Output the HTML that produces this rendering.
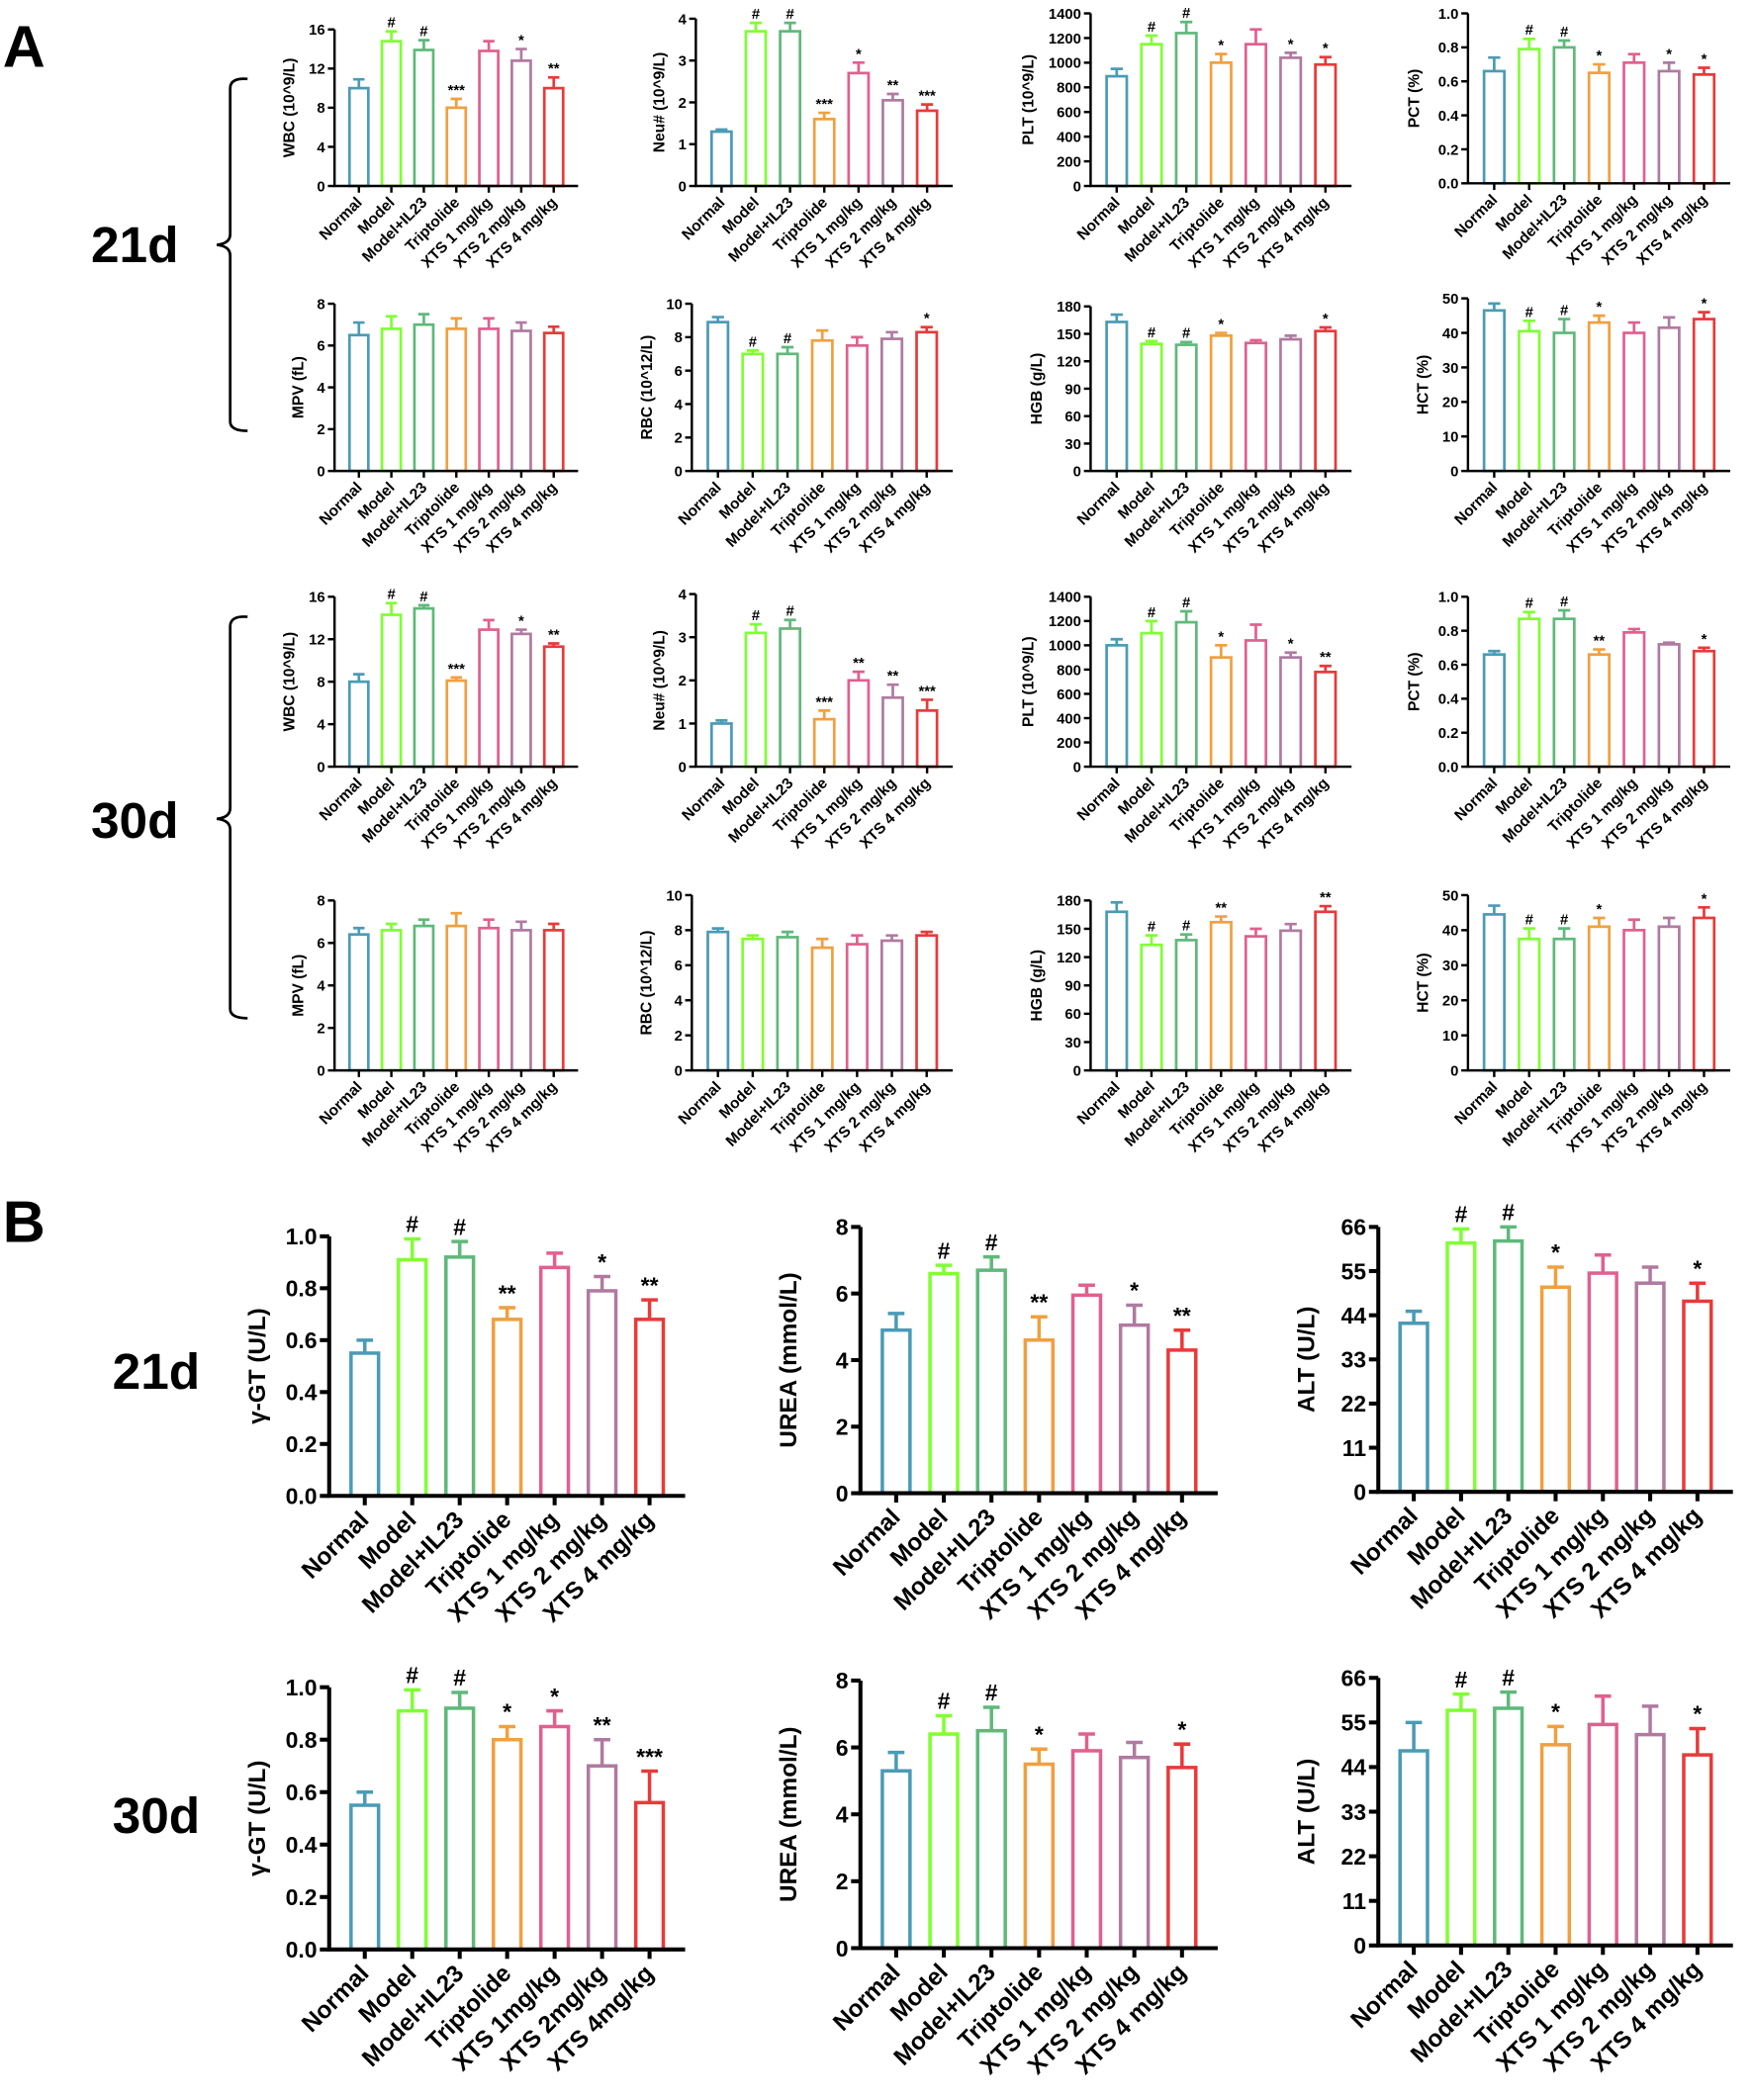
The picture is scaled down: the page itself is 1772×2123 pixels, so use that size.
<!DOCTYPE html>
<html><head><meta charset="utf-8"><style>
html,body{margin:0;padding:0;background:#fff;}
svg{display:block;font-family:"Liberation Sans",Arial,sans-serif;font-weight:bold;}
</style></head><body>
<svg id="fig" width="1772" height="2123" viewBox="0 0 1310 1569.5" xmlns="http://www.w3.org/2000/svg">
<text x="2" y="50" font-size="44">A</text>
<text x="2" y="928" font-size="44">B</text>
<text x="68" y="196" font-size="38">21d</text>
<text x="68" y="626" font-size="38">30d</text>
<text x="84" y="1038" font-size="38">21d</text>
<text x="84" y="1370" font-size="38">30d</text>
<path d="M185 59 Q172 58 172 66 L172 175 Q172 182 162 183 Q172 184 172 191 L172 315 Q172 322 185 322" fill="none" stroke="#000" stroke-width="2"/>
<path d="M185 461 Q172 460 172 468 L172 604 Q172 611 162 612 Q172 613 172 620 L172 754 Q172 761 185 761" fill="none" stroke="#000" stroke-width="2"/>
</svg>
<script>
const colors=["#4a9bb6","#80ff33","#5fb97a","#f0a040","#e0608f","#b07aa0","#e83a3a"];
const cats=["Normal","Model","Model+IL23","Triptolide","XTS 1 mg/kg","XTS 2 mg/kg","XTS 4 mg/kg"];
const cats2=["Normal","Model","Model+IL23","Triptolide","XTS 1mg/kg","XTS 2mg/kg","XTS 4mg/kg"];
// 21d panel A
const wbc21=[10,14.8,13.9,8,13.8,12.8,10], wbc21e=[0.9,1.0,1.0,0.9,1.0,1.2,1.1], wbc21m=["","#","#","***","","*","**"];
const neu21=[1.3,3.7,3.7,1.6,2.7,2.05,1.8], neu21e=[0.05,0.2,0.2,0.15,0.25,0.15,0.15], neu21m=["","#","#","***","*","**","***"];
const plt21=[890,1150,1240,1000,1150,1040,985], plt21e=[60,70,90,70,120,40,60], plt21m=["","#","#","*","","*","*"];
const pct21=[0.66,0.79,0.80,0.65,0.71,0.66,0.64], pct21e=[0.08,0.06,0.04,0.05,0.05,0.05,0.04], pct21m=["","#","#","*","","*","*"];
const mpv21=[6.5,6.8,7.0,6.8,6.8,6.7,6.6], mpv21e=[0.6,0.6,0.5,0.5,0.5,0.4,0.3], noM=["","","","","","",""];
const rbc21=[8.9,7.0,7.0,7.8,7.5,7.9,8.3], rbc21e=[0.3,0.2,0.4,0.6,0.5,0.4,0.3], rbc21m=["","#","#","","","","*"];
const hgb21=[163,139,138,148,140,144,153], hgb21e=[8,3,3,3,3,4,4], hgb21m=["","#","#","*","","","*"];
const hct21=[46.5,40.5,40,43,40,41.5,44], hct21e=[2,3,4,2,3,3,2], hct21m=["","#","#","*","","","*"];
// 30d panel A
const wbc30=[8,14.3,14.9,8.1,12.9,12.5,11.3], wbc30e=[0.7,1.1,0.3,0.3,0.9,0.4,0.3], wbc30m=["","#","#","***","","*","**"];
const neu30=[1.0,3.1,3.2,1.1,2.0,1.6,1.3], neu30e=[0.07,0.2,0.2,0.2,0.2,0.3,0.25], neu30m=["","#","#","***","**","**","***"];
const plt30=[1000,1100,1190,900,1040,900,780], plt30e=[50,100,90,100,130,40,50], plt30m=["","#","#","*","","*","**"];
const pct30=[0.66,0.87,0.87,0.66,0.79,0.72,0.68], pct30e=[0.02,0.04,0.05,0.03,0.02,0.01,0.02], pct30m=["","#","#","**","","","*"];
const mpv30=[6.4,6.6,6.8,6.8,6.7,6.6,6.6], mpv30e=[0.3,0.3,0.3,0.6,0.4,0.4,0.3];
const rbc30=[7.9,7.5,7.6,7.0,7.2,7.4,7.7], rbc30e=[0.2,0.2,0.3,0.5,0.5,0.3,0.2];
const hgb30=[168,133,138,157,142,148,168], hgb30e=[10,10,6,6,8,7,6], hgb30m=["","#","#","**","","","**"];
const hct30=[44.5,37.5,37.5,41,40,41,43.5], hct30e=[2.5,3,3,2.5,3,2.5,3], hct30m=["","#","#","*","","","*"];
// panel B
const ggt21=[0.55,0.91,0.92,0.68,0.88,0.79,0.68], ggt21e=[0.05,0.08,0.06,0.045,0.055,0.055,0.075], ggt21m=["","#","#","**","","*","**"];
const urea21=[4.9,6.6,6.7,4.6,5.95,5.05,4.3], urea21e=[0.5,0.25,0.4,0.7,0.3,0.6,0.6], urea21m=["","#","#","**","","*","**"];
const alt21=[42,62,62.5,51,54.5,52,47.5], alt21e=[3,3.5,3.5,5,4.5,4,4.5], alt21m=["","#","#","*","","","*"];
const ggt30=[0.55,0.91,0.92,0.80,0.85,0.70,0.56], ggt30e=[0.05,0.08,0.06,0.05,0.06,0.10,0.12], ggt30m=["","#","#","*","*","**","***"];
const urea30=[5.3,6.4,6.5,5.5,5.9,5.7,5.4], urea30e=[0.55,0.55,0.7,0.45,0.5,0.45,0.7], urea30m=["","#","#","*","","","*"];
const alt30=[48,58,58.5,49.5,54.5,52,47], alt30e=[7,4,4,4.5,7,7,6.5], alt30m=["","#","#","*","","","*"];
// ticks
const t16=[0,4,8,12,16], t4=[0,1,2,3,4], t1400=[0,200,400,600,800,1000,1200,1400], t1=["0.0","0.2","0.4","0.6","0.8","1.0"];
const t8=[0,2,4,6,8], t10=[0,2,4,6,8,10], t180=[0,30,60,90,120,150,180], t50=[0,10,20,30,40,50];
const tb1=["0.0","0.2","0.4","0.6","0.8","1.0"], tb8=[0,2,4,6,8], tb66=[0,11,22,33,44,55,66];

const svg=document.getElementById('fig');
const NS="http://www.w3.org/2000/svg";
function mk(tag,attrs,parent){const e=document.createElementNS(NS,tag);for(const k in attrs)e.setAttribute(k,attrs[k]);(parent||svg).appendChild(e);return e;}

function chart(c){
  const g=mk('g',{});
  
  
  const tickNums=c.ticks.map(Number);
  const ymax=tickNums[tickNums.length-1];
  const y=v=>c.zero-(v/ymax)*(c.zero-c.top);
  const sp=(c.xEnd-c.ax)/7.5;
  const x=i=>c.ax+sp*0.75+i*sp;
  const bw=sp*0.58, sw=c.big?2.6:2;
  c.vals.forEach((v,i)=>{
    const col=colors[i];
    const r=mk('rect',{x:x(i)-bw/2,y:y(v),width:bw,height:c.zero-y(v),fill:'#fff',stroke:col,'stroke-width':sw},g);
    
    
    const ye=y(v+c.errs[i]);
    const e=mk('path',{d:`M${x(i)} ${y(v)} L${x(i)} ${ye} M${x(i)-bw*0.3} ${ye} L${x(i)+bw*0.3} ${ye}`,stroke:col,'stroke-width':sw,fill:'none'},g);
    
    
    if(c.marks[i]){
      const m=mk('text',{x:x(i),y:ye-(c.big?5:3),'text-anchor':'middle','font-size':c.big?17:11},g);
      m.textContent=c.marks[i];
      
      
    }
  });
  const aw=c.big?3:1.8;
  const ax=mk('path',{d:`M${c.ax} ${c.top} L${c.ax} ${c.zero} L${c.xEnd} ${c.zero}`,stroke:'#000','stroke-width':aw,fill:'none'},g);
  
  
  const tl=c.big?7:5, fs=c.big?17:11;
  c.ticks.forEach(t=>{
    const yy=y(Number(t));
    mk('line',{x1:c.ax-tl,x2:c.ax,y1:yy,y2:yy,stroke:'#000','stroke-width':aw},g);
    const tt=mk('text',{x:c.ax-tl-2,y:yy+fs*0.36,'text-anchor':'end','font-size':fs},g);
    tt.textContent=t;
    
    
  });
  const labs=c.cats||cats, cfs=c.big?18:11.5;
  labs.forEach((l,i)=>{
    mk('line',{x1:x(i),x2:x(i),y1:c.zero,y2:c.zero+tl,stroke:'#000','stroke-width':aw},g);
    const lx=x(i)+(c.big?4:3), ly=c.zero+tl+(c.big?12:8);
    const tx=mk('text',{x:lx,y:ly,'text-anchor':'end','font-size':cfs,transform:`rotate(-45 ${lx} ${ly})`},g);
    tx.textContent=l;
    
    
  });
  const maxLen=Math.max(...c.ticks.map(t=>String(t).length));
  const yt=c.ax-(c.big?48:(17+maxLen*6.5)), ym=(c.top+c.zero)/2;
  const ttl=mk('text',{x:yt,y:ym,'text-anchor':'middle','font-size':c.big?18:11.5,transform:`rotate(-90 ${yt} ${ym})`},g);
  ttl.textContent=c.title;
  
  
}

const AX=[250,520,815,1097], AXE=[432,712,1010,1293];
chart({name:'wbc-21d-chart',ax:AX[0],xEnd:AXE[0],top:22,zero:139,ticks:t16,vals:wbc21,errs:wbc21e,marks:wbc21m,title:'WBC (10^9/L)'});
chart({name:'neu-21d-chart',ax:AX[1],xEnd:AXE[1],top:14,zero:139,ticks:t4,vals:neu21,errs:neu21e,marks:neu21m,title:'Neu# (10^9/L)'});
chart({name:'plt-21d-chart',ax:AX[2],xEnd:AXE[2],top:10,zero:139,ticks:t1400,vals:plt21,errs:plt21e,marks:plt21m,title:'PLT (10^9/L)'});
chart({name:'pct-21d-chart',ax:AX[3],xEnd:AXE[3],top:10,zero:137,ticks:t1,vals:pct21,errs:pct21e,marks:pct21m,title:'PCT (%)'});
chart({name:'mpv-21d-chart',ax:AX[0],xEnd:AXE[0],top:227,zero:352,ticks:t8,vals:mpv21,errs:mpv21e,marks:noM,title:'MPV (fL)'});
chart({name:'rbc-21d-chart',ax:517,xEnd:AXE[1],top:227,zero:352,ticks:t10,vals:rbc21,errs:rbc21e,marks:rbc21m,title:'RBC (10^12/L)'});
chart({name:'hgb-21d-chart',ax:AX[2],xEnd:AXE[2],top:229,zero:352,ticks:t180,vals:hgb21,errs:hgb21e,marks:hgb21m,title:'HGB (g/L)'});
chart({name:'hct-21d-chart',ax:AX[3],xEnd:AXE[3],top:223,zero:352,ticks:t50,vals:hct21,errs:hct21e,marks:hct21m,title:'HCT (%)'});
chart({name:'wbc-30d-chart',ax:AX[0],xEnd:AXE[0],top:446,zero:573,ticks:t16,vals:wbc30,errs:wbc30e,marks:wbc30m,title:'WBC (10^9/L)'});
chart({name:'neu-30d-chart',ax:AX[1],xEnd:AXE[1],top:444,zero:573,ticks:t4,vals:neu30,errs:neu30e,marks:neu30m,title:'Neu# (10^9/L)'});
chart({name:'plt-30d-chart',ax:AX[2],xEnd:AXE[2],top:446,zero:573,ticks:t1400,vals:plt30,errs:plt30e,marks:plt30m,title:'PLT (10^9/L)'});
chart({name:'pct-30d-chart',ax:AX[3],xEnd:AXE[3],top:446,zero:573,ticks:t1,vals:pct30,errs:pct30e,marks:pct30m,title:'PCT (%)'});
chart({name:'mpv-30d-chart',ax:AX[0],xEnd:AXE[0],top:673,zero:800,ticks:t8,vals:mpv30,errs:mpv30e,marks:noM,title:'MPV (fL)'});
chart({name:'rbc-30d-chart',ax:517,xEnd:AXE[1],top:669,zero:800,ticks:t10,vals:rbc30,errs:rbc30e,marks:noM,title:'RBC (10^12/L)'});
chart({name:'hgb-30d-chart',ax:AX[2],xEnd:AXE[2],top:673,zero:800,ticks:t180,vals:hgb30,errs:hgb30e,marks:hgb30m,title:'HGB (g/L)'});
chart({name:'hct-30d-chart',ax:AX[3],xEnd:AXE[3],top:669,zero:800,ticks:t50,vals:hct30,errs:hct30e,marks:hct30m,title:'HCT (%)'});
const BX=[246,643,1030], BXE=[512,910,1295];
chart({big:1,name:'ggt-21d-chart',ax:BX[0],xEnd:BXE[0],top:924,zero:1118,ticks:tb1,vals:ggt21,errs:ggt21e,marks:ggt21m,title:'γ-GT (U/L)'});
chart({big:1,name:'urea-21d-chart',ax:BX[1],xEnd:BXE[1],top:917,zero:1116,ticks:tb8,vals:urea21,errs:urea21e,marks:urea21m,title:'UREA (mmol/L)'});
chart({big:1,name:'alt-21d-chart',ax:BX[2],xEnd:BXE[2],top:917,zero:1115,ticks:tb66,vals:alt21,errs:alt21e,marks:alt21m,title:'ALT (U/L)'});
chart({big:1,name:'ggt-30d-chart',ax:BX[0],xEnd:BXE[0],top:1261,zero:1457,ticks:tb1,vals:ggt30,errs:ggt30e,marks:ggt30m,title:'γ-GT (U/L)',cats:cats2});
chart({big:1,name:'urea-30d-chart',ax:BX[1],xEnd:BXE[1],top:1256,zero:1456,ticks:tb8,vals:urea30,errs:urea30e,marks:urea30m,title:'UREA (mmol/L)'});
chart({big:1,name:'alt-30d-chart',ax:BX[2],xEnd:BXE[2],top:1254,zero:1454,ticks:tb66,vals:alt30,errs:alt30e,marks:alt30m,title:'ALT (U/L)'});
</script>
</body></html>
